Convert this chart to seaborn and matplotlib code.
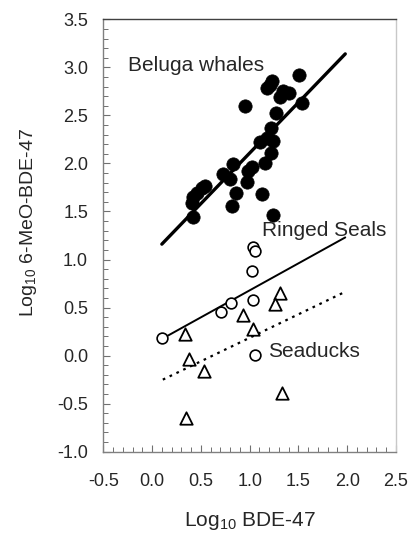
import matplotlib
matplotlib.use("Agg")
import matplotlib.pyplot as plt
import seaborn as sns
import pandas as pd
from matplotlib.ticker import MultipleLocator

# Beluga whales (filled circles)
beluga_x = [1.505, 1.23, 1.18, 1.21, 1.34, 1.40, 1.31, 0.95, 1.54, 1.27, 1.22, 1.11,
            1.18, 1.24, 1.22, 1.16, 1.02, 0.98, 0.83, 0.73, 0.80, 0.97, 0.54, 0.51,
            0.46, 0.42, 0.41, 0.86, 1.13, 0.82, 0.42, 1.24]
beluga_y = [2.92, 2.86, 2.79, 2.82, 2.75, 2.73, 2.69, 2.60, 2.63, 2.53, 2.37, 2.22,
            2.26, 2.23, 2.11, 2.00, 1.96, 1.92, 1.99, 1.89, 1.84, 1.81, 1.77, 1.74,
            1.69, 1.65, 1.59, 1.69, 1.68, 1.56, 1.44, 1.46]
beluga_fit_x = [0.10, 1.98]
beluga_fit_y = [1.16, 3.14]

# Ringed seals (open circles)
seal_x = [1.03, 1.05, 1.02, 1.03, 0.81, 0.71, 0.10, 1.05]
seal_y = [1.13, 1.09, 0.88, 0.58, 0.55, 0.45, 0.18, 0.01]
seal_fit_x = [0.13, 1.98]
seal_fit_y = [0.19, 1.23]

# Seaducks (open triangles)
duck_x = [1.31, 1.26, 0.93, 1.03, 0.34, 0.38, 0.53, 1.33, 0.35]
duck_y = [0.65, 0.54, 0.42, 0.28, 0.22, -0.04, -0.16, -0.39, -0.65]
duck_fit_x = [0.11, 1.95]
duck_fit_y = [-0.25, 0.65]

x_ticks = [-0.5, 0.0, 0.5, 1.0, 1.5, 2.0, 2.5]
y_ticks = [-1.0, -0.5, 0.0, 0.5, 1.0, 1.5, 2.0, 2.5, 3.0, 3.5]

sns.set_style("ticks")
plt.rcParams['font.family'] = ['Liberation Sans', 'DejaVu Sans']
plt.rcParams['mathtext.default'] = 'regular'

fig = plt.figure(figsize=(4.11, 5.37), dpi=100)
ax = fig.add_axes([103.3 / 411, 1 - 451.7 / 537, (396 - 103.3) / 411, (451.7 - 19.3) / 537])

# fit lines
sns.lineplot(x=beluga_fit_x, y=beluga_fit_y, ax=ax, color='black', lw=2.4)
sns.lineplot(x=seal_fit_x, y=seal_fit_y, ax=ax, color='black', lw=1.4)
sns.lineplot(x=duck_fit_x, y=duck_fit_y, ax=ax, color='black', lw=1.6,
             linestyle=(0, (1.2, 2.2)))

# points
sns.scatterplot(x=beluga_x, y=beluga_y, ax=ax, color='black', s=92,
                edgecolor='black', linewidth=0.5, zorder=3)
sns.scatterplot(x=seal_x, y=seal_y, ax=ax, marker='o', s=60, facecolor='white',
                edgecolor='black', linewidth=1.2, zorder=3)
sns.scatterplot(x=duck_x, y=duck_y, ax=ax, marker='^', s=80, facecolor='white',
                edgecolor='black', linewidth=1.3, zorder=3)

ax.text(-0.25, 3.02, 'Beluga whales', fontsize=15, va='center', ha='left')
ax.text(1.13, 1.30, 'Ringed Seals', fontsize=15, va='center', ha='left')
ax.text(1.19, 0.04, 'Seaducks', fontsize=15, va='center', ha='left')

ax.set_xlim(-0.5, 2.5)
ax.set_ylim(-1.0, 3.5)
ax.set_xticks(x_ticks)
ax.set_yticks(y_ticks)
ax.set_xticklabels([f'{v:.1f}' for v in x_ticks])
ax.set_yticklabels([f'{v:.1f}' for v in y_ticks])
ax.xaxis.set_minor_locator(MultipleLocator(0.1))
ax.yaxis.set_minor_locator(MultipleLocator(0.1))
ax.tick_params(which='major', direction='in', length=5, width=0.8, color='#707070',
               labelsize=13, top=False, right=False)
ax.tick_params(which='major', axis='x', pad=15)
ax.tick_params(which='major', axis='y', pad=11)
ax.tick_params(which='minor', direction='in', length=3.5, width=0.7, color='#707070',
               top=False, right=False)

for side, col in [('left', '#808080'), ('bottom', '#808080'), ('top', '#404040'),
                  ('right', '#c8c8c8')]:
    ax.spines[side].set_visible(True)
    ax.spines[side].set_color(col)
    ax.spines[side].set_linewidth(1.0)

ax.set_xlabel('Log$_{10}$ BDE-47', fontsize=15, labelpad=15)
ax.set_ylabel('Log$_{10}$ 6-MeO-BDE-47', fontsize=14)
ax.yaxis.set_label_coords(-0.22, 0.53)

fig.savefig('out.png', dpi=100, facecolor='white')
